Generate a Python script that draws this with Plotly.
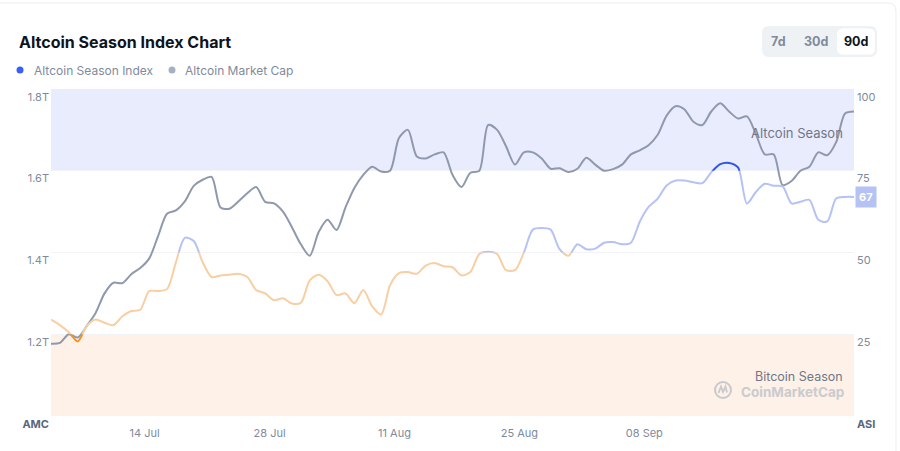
import plotly.graph_objects as go
import pandas as pd

# ---------------- data ----------------
dates = pd.date_range("2025-07-03 12:00", periods=91, freq="D")

market_cap_t = [
    1.177, 1.179, 1.200, 1.192, 1.220, 1.252, 1.300, 1.326, 1.325, 1.347,
    1.362, 1.385, 1.440, 1.495, 1.503, 1.525, 1.563, 1.578, 1.585, 1.510,
    1.507, 1.525, 1.545, 1.560, 1.524, 1.520, 1.500, 1.462, 1.420, 1.392,
    1.450, 1.480, 1.455, 1.510, 1.558, 1.590, 1.610, 1.598, 1.600, 1.680,
    1.700, 1.635, 1.630, 1.640, 1.645, 1.590, 1.560, 1.595, 1.600, 1.712,
    1.700, 1.660, 1.615, 1.645, 1.645, 1.630, 1.605, 1.606, 1.597, 1.605,
    1.632, 1.615, 1.600, 1.604, 1.615, 1.640, 1.650, 1.663, 1.688, 1.735,
    1.758, 1.750, 1.720, 1.712, 1.745, 1.765, 1.745, 1.728, 1.733, 1.690,
    1.640, 1.640, 1.565, 1.575, 1.600, 1.610, 1.645, 1.638, 1.670, 1.740,
    1.745,
]

asi = [
    29.5, 27.8, 25.6, 22.8, 27.5, 29.5, 28.5, 27.8, 30.5, 32.1,
    32.5, 38.2, 38.2, 38.8, 47.0, 54.5, 53.5, 47.0, 42.5, 43.0,
    43.2, 43.5, 42.5, 38.5, 37.5, 35.4, 36.0, 34.4, 34.6, 41.5,
    43.2, 41.2, 37.0, 37.5, 34.5, 38.5, 33.5, 31.0, 40.0, 43.7,
    44.0, 43.5, 46.0, 46.8, 45.8, 45.5, 43.0, 44.0, 49.5, 50.2,
    49.5, 44.6, 44.6, 50.0, 57.0, 57.5, 57.0, 51.0, 49.0, 52.5,
    51.0, 51.2, 53.0, 53.2, 52.5, 53.0, 59.5, 64.0, 66.5, 70.5,
    72.0, 72.0, 71.5, 71.2, 74.5, 77.0, 77.4, 76.0, 65.0, 68.5,
    71.0, 70.4, 70.2, 65.0, 65.5, 66.1, 60.0, 59.5, 66.5, 67.0,
    67.0,
]

tick_dates = ["2025-07-14", "2025-07-28", "2025-08-11", "2025-08-25", "2025-09-08"]
tick_labels = ["14 Jul", "28 Jul", "11 Aug", "25 Aug", "08 Sep"]

cap_ticks = [1.0e12, 1.2e12, 1.4e12, 1.6e12, 1.8e12]
cap_ticktext = ["<span style='color:#58667e'><b>AMC</b></span>", "1.2T", "1.4T", "1.6T", "1.8T"]
asi_ticks = [0, 25, 50, 75, 100]
asi_ticktext = ["<span style='color:#58667e'><b>ASI</b></span>", "25", "50", "75", "100"]

# colour zones of the index line: (low, high, colour)
zones = [
    (0, 25, "#f7931a"),
    (25, 50, "#f8cfa2"),
    (50, 75, "#b5c2f4"),
    (75, 100, "#2f55e4"),
]

# ---------------- geometry helpers ----------------
W, H = 900, 451
L, R, T, B = 51, 854, 89, 416


def px(x):
    return (x - L) / (R - L)


def py(y):
    return (B - y) / (B - T)


def rrect(x0, y0, x1, y1, r):
    """rounded rectangle path in pixel coords -> paper coords"""
    pts = [
        ("M", [(x0 + r, y0)]),
        ("L", [(x1 - r, y0)]),
        ("Q", [(x1, y0), (x1, y0 + r)]),
        ("L", [(x1, y1 - r)]),
        ("Q", [(x1, y1), (x1 - r, y1)]),
        ("L", [(x0 + r, y1)]),
        ("Q", [(x0, y1), (x0, y1 - r)]),
        ("L", [(x0, y0 + r)]),
        ("Q", [(x0, y0), (x0 + r, y0)]),
    ]
    s = ""
    for cmd, p in pts:
        s += cmd + " " + " ".join(f"{px(a):.5f},{py(b):.5f}" for a, b in p) + " "
    return s + "Z"


FONT = "Inter, 'Noto Sans', sans-serif"
GRAY_TXT = "#808a9d"

fig = go.Figure()

# market cap line
fig.add_trace(go.Scatter(
    x=dates, y=[v * 1e12 for v in market_cap_t], yaxis="y",
    mode="lines", line=dict(color="#8f98ad", width=2, shape="spline", smoothing=0.8),
    hoverinfo="skip", showlegend=False,
))

# index line, coloured per zone (each copy clipped to its zone's sub-plot)
for i, (lo, hi, col) in enumerate(zones):
    fig.add_trace(go.Scatter(
        x=dates, y=asi, yaxis=f"y{i + 3}",
        mode="lines", line=dict(color=col, width=2, shape="spline", smoothing=0.8),
        hoverinfo="skip", showlegend=False,
    ))

layout_axes = dict(
    xaxis=dict(
        domain=[0, 1], anchor="y", range=[dates[0], dates[-1]],
        tickvals=tick_dates, ticktext=tick_labels, showgrid=False, showline=False,
        zeroline=False, ticks="", ticklabelstandoff=9,
        tickfont=dict(size=11, color=GRAY_TXT, family=FONT),
    ),
    yaxis=dict(
        domain=[0, 1], range=[1.0e12, 1.8e12], tickvals=cap_ticks, ticktext=cap_ticktext,
        showgrid=True, gridcolor="#f2f3f6", zeroline=False, showline=False, ticks="",
        ticklabelposition="outside bottom", ticklabelstandoff=1,
        tickfont=dict(size=11, color=GRAY_TXT, family=FONT),
    ),
    yaxis2=dict(
        overlaying="y", side="right", anchor="x", range=[0, 100], tickvals=asi_ticks,
        ticktext=asi_ticktext, showgrid=False, zeroline=False, showline=False, ticks="",
        ticklabelposition="outside bottom", ticklabelstandoff=2,
        tickfont=dict(size=11, color=GRAY_TXT, family=FONT),
    ),
)
for i, (lo, hi, col) in enumerate(zones):
    layout_axes[f"yaxis{i + 3}"] = dict(
        domain=[lo / 100, hi / 100], range=[lo, hi], anchor="x", visible=False,
        showgrid=False, zeroline=False,
    )

shapes = [
    # card border
    dict(type="path", xref="paper", yref="paper", path=rrect(-8, 3, 896, 470, 8),
         line=dict(color="#eceef2", width=1), fillcolor="rgba(0,0,0,0)", layer="below"),
    # season bands
    dict(type="rect", xref="paper", yref="y2", x0=0, x1=1, y0=75, y1=100,
         fillcolor="#e9ecfd", line=dict(width=0), layer="below"),
    dict(type="rect", xref="paper", yref="y2", x0=0, x1=1, y0=0, y1=25,
         fillcolor="#fdf1e8", line=dict(width=0), layer="below"),
    # legend dots
    dict(type="circle", xref="paper", yref="paper", x0=px(16.5), x1=px(23.5), y0=py(73.5), y1=py(66.5),
         fillcolor="#3861fb", line=dict(width=0)),
    dict(type="circle", xref="paper", yref="paper", x0=px(168.5), x1=px(175.5), y0=py(73.5), y1=py(66.5),
         fillcolor="#a6b0c3", line=dict(width=0)),
    # period buttons
    dict(type="path", xref="paper", yref="paper", path=rrect(762, 26, 877, 57, 7),
         fillcolor="#eff2f5", line=dict(width=0)),
    dict(type="path", xref="paper", yref="paper", path=rrect(837, 28.5, 875, 54.5, 6),
         fillcolor="#ffffff", line=dict(width=0)),
    # watermark logo
    dict(type="circle", xref="paper", yref="paper", x0=px(715), x1=px(731), y0=py(398), y1=py(382),
         fillcolor="rgba(0,0,0,0)", line=dict(color="#c9c9cc", width=2)),
    dict(type="path", xref="paper", yref="paper",
         path=f"M {px(718.5)},{py(393)} L {px(721)},{py(386.5)} L {px(723)},{py(392)} "
              f"L {px(725.5)},{py(386.5)} L {px(727)},{py(392.5)}",
         fillcolor="rgba(0,0,0,0)", line=dict(color="#c9c9cc", width=1.8)),
]

annotations = [
    dict(text="<b>Altcoin Season Index Chart</b>", xref="paper", yref="paper",
         x=px(17), y=py(42), xanchor="left", yanchor="middle", showarrow=False,
         font=dict(size=16, color="#0d1421", family=FONT)),
    dict(text="Altcoin Season Index", xref="paper", yref="paper",
         x=px(32), y=py(70), xanchor="left", yanchor="middle", showarrow=False,
         font=dict(size=12, color=GRAY_TXT, family=FONT)),
    dict(text="Altcoin Market Cap", xref="paper", yref="paper",
         x=px(183), y=py(70), xanchor="left", yanchor="middle", showarrow=False,
         font=dict(size=12, color=GRAY_TXT, family=FONT)),
    dict(text="<b>7d</b>", xref="paper", yref="paper", x=px(778), y=py(42),
         xanchor="center", yanchor="middle", showarrow=False,
         font=dict(size=12.5, color=GRAY_TXT, family=FONT)),
    dict(text="<b>30d</b>", xref="paper", yref="paper", x=px(816), y=py(42),
         xanchor="center", yanchor="middle", showarrow=False,
         font=dict(size=12.5, color=GRAY_TXT, family=FONT)),
    dict(text="<b>90d</b>", xref="paper", yref="paper", x=px(856.5), y=py(42),
         xanchor="center", yanchor="middle", showarrow=False,
         font=dict(size=12.5, color="#0d1421", family=FONT)),
    dict(text="Altcoin Season", xref="paper", yref="paper", x=px(845), y=py(132.5),
         xanchor="right", yanchor="middle", showarrow=False,
         font=dict(size=13, color="#6f7789", family=FONT)),
    dict(text="Bitcoin Season", xref="paper", yref="paper", x=px(845), y=py(376),
         xanchor="right", yanchor="middle", showarrow=False,
         font=dict(size=12.5, color="#6f7789", family=FONT)),
    dict(text="<b>CoinMarketCap</b>", xref="paper", yref="paper", x=px(846), y=py(391.5),
         xanchor="right", yanchor="middle", showarrow=False,
         font=dict(size=13.5, color="#cbcbce", family=FONT)),
    # current value badge
    dict(text=f"<b>{asi[-1]:.0f}</b>", xref="paper", yref="y2", x=px(866), y=asi[-1],
         xanchor="center", yanchor="middle", showarrow=False,
         bgcolor="#b5c2f4", borderpad=3, font=dict(size=11, color="#ffffff", family=FONT)),
]

fig.update_layout(
    width=W, height=H,
    margin=dict(l=L, r=W - R, t=T, b=H - B),
    paper_bgcolor="#ffffff", plot_bgcolor="rgba(0,0,0,0)",
    showlegend=False, hovermode=False,
    shapes=shapes, annotations=annotations,
    font=dict(family=FONT),
    **layout_axes,
)

fig.write_html("out.html", config={"displayModeBar": False})
